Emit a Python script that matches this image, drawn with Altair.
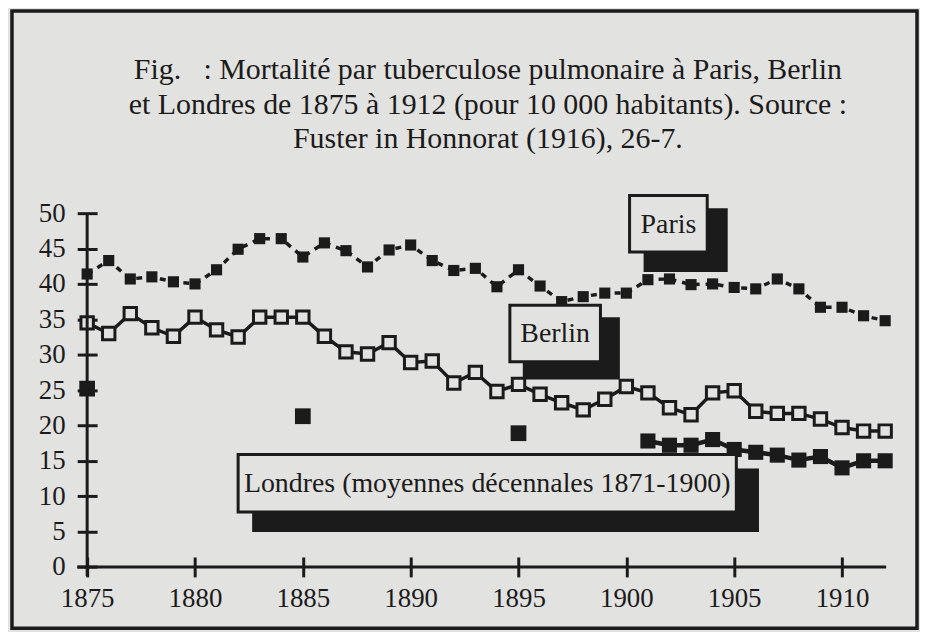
import altair as alt
import pandas as pd

# ---- data ----
years = list(range(1875, 1913))
paris = [41.4, 43.3, 40.7, 41.0, 40.3, 40.0, 42.0, 44.9, 46.4, 46.4,
         43.8, 45.8, 44.7, 42.4, 44.8, 45.5, 43.3, 41.9, 42.2, 39.6,
         42.0, 39.7, 37.5, 38.2, 38.7, 38.7, 40.6, 40.7, 39.9, 40.0,
         39.5, 39.3, 40.7, 39.3, 36.7, 36.7, 35.5, 34.8]
berlin = [34.5, 33.0, 35.8, 33.8, 32.6, 35.3, 33.5, 32.5, 35.3, 35.3,
          35.3, 32.6, 30.4, 30.1, 31.7, 28.9, 29.1, 26.0, 27.5, 24.8,
          25.8, 24.4, 23.2, 22.2, 23.7, 25.5, 24.6, 22.5, 21.5, 24.6,
          24.9, 22.0, 21.7, 21.7, 20.9, 19.7, 19.2, 19.2]
london_dec_years = [1875, 1885, 1895]
london_dec = [25.2, 21.3, 18.9]
london_years = list(range(1901, 1913))
london = [17.8, 17.2, 17.2, 18.0, 16.6, 16.2, 15.8, 15.1, 15.6, 14.0, 15.0, 15.0]

x_ticks = [1875, 1880, 1885, 1890, 1895, 1900, 1905, 1910]
y_ticks = [0, 5, 10, 15, 20, 25, 30, 35, 40, 45, 50]

title_lines = [
    "Fig.\u00a0\u00a0\u00a0: Mortalité par tuberculose pulmonaire à Paris, Berlin",
    "et Londres de 1875 à 1912 (pour 10\u00a0000 habitants). Source\u00a0:",
    "Fuster in Honnorat (1916), 26-7.",
]

# annotation boxes, in data units (year, rate)
labels = ["Paris", "Berlin", "Londres (moyennes décennales 1871-1900)"]
box_x0 = [1900.15, 1894.6, 1882.0]
box_x1 = [1903.75, 1898.8, 1905.1]
box_y0 = [44.5, 29.0, 7.75]
box_y1 = [52.5, 37.0, 15.9]
shadow_x0 = [1900.8, 1895.2, 1882.65]
shadow_x1 = [1904.7, 1899.7, 1906.15]
shadow_y0 = [41.7, 26.5, 4.95]
shadow_y1 = [50.7, 35.3, 13.9]

# ---- styling ----
INK = "#1b1b1b"
PAPER = "#e2e2e0"
FONT = "Liberation Serif"
W, H = 801.5, 355.3

df_paris = pd.DataFrame({"year": years, "value": paris})
df_berlin = pd.DataFrame({"year": years, "value": berlin})
df_ldec = pd.DataFrame({"year": london_dec_years, "value": london_dec})
df_lon = pd.DataFrame({"year": london_years, "value": london})
df_ann = pd.DataFrame({
    "label": labels,
    "bx0": box_x0, "bx1": box_x1, "by0": box_y0, "by1": box_y1,
    "sx0": shadow_x0, "sx1": shadow_x1, "sy0": shadow_y0, "sy1": shadow_y1,
})
df_ann["cx"] = (df_ann["bx0"] + df_ann["bx1"]) / 2
df_ann["cy"] = (df_ann["by0"] + df_ann["by1"]) / 2

xs = alt.Scale(domain=[1875, 1912], nice=False, zero=False)
ys = alt.Scale(domain=[0, 50], nice=False)
xaxis = alt.Axis(values=x_ticks, format="d", title=None, domain=False, grid=False,
                 tickSize=20, tickWidth=3, tickColor=INK, offset=-10,
                 labelFont=FONT, labelFontSize=27, labelColor=INK, labelPadding=9,
                 labelFlush=False, labelOverlap=False)
yaxis = alt.Axis(values=y_ticks, title=None, domain=False, grid=False,
                 tickSize=20, tickWidth=3, tickColor=INK, offset=-10,
                 labelFont=FONT, labelFontSize=27, labelColor=INK, labelPadding=12,
                 labelFlush=False, labelOverlap=False)


def X(f):
    return alt.X(f, type="quantitative", scale=xs, axis=xaxis)


def Y(f):
    return alt.Y(f, type="quantitative", scale=ys, axis=yaxis)


one = alt.Data(values=[{"a": 1}])

frame = alt.Chart(one).mark_rect(fill=None, stroke=INK, strokeWidth=3.5).encode(
    x=alt.value(-75.5), x2=alt.value(833.5), y=alt.value(-203), y2=alt.value(417))

title_layers = [
    alt.Chart(one).mark_text(font=FONT, fontSize=30, color=INK, align="center",
                             baseline="alphabetic").encode(
        text=alt.value(t), x=alt.value(402.5), y=alt.value(yy))
    for t, yy in zip(title_lines, [-135, -100, -65])
]

x_line = alt.Chart(one).mark_rule(color=INK, strokeWidth=3).encode(
    x=alt.value(-10), x2=alt.value(W + 1), y=alt.value(H))
y_line = alt.Chart(one).mark_rule(color=INK, strokeWidth=3).encode(
    x=alt.value(0), y=alt.value(0), y2=alt.value(H + 9))

paris_line = alt.Chart(df_paris).mark_line(color=INK, strokeWidth=3.5, strokeDash=[6, 6]).encode(
    x=X("year"), y=Y("value"))
paris_pts = alt.Chart(df_paris).mark_point(shape="square", filled=True, size=125,
                                           color=INK, opacity=1).encode(x=X("year"), y=Y("value"))

berlin_line = alt.Chart(df_berlin).mark_line(color=INK, strokeWidth=3.5).encode(
    x=X("year"), y=Y("value"))
berlin_pts = alt.Chart(df_berlin).mark_point(shape="square", filled=True, size=155, fill=PAPER,
                                             stroke=INK, strokeWidth=3, opacity=1).encode(
    x=X("year"), y=Y("value"))

ldec_pts = alt.Chart(df_ldec).mark_point(shape="square", filled=True, size=250,
                                         color=INK, opacity=1).encode(x=X("year"), y=Y("value"))
lon_line = alt.Chart(df_lon).mark_line(color=INK, strokeWidth=4.5).encode(
    x=X("year"), y=Y("value"))
lon_pts = alt.Chart(df_lon).mark_point(shape="square", filled=True, size=230,
                                       color=INK, opacity=1).encode(x=X("year"), y=Y("value"))

shadows = alt.Chart(df_ann).mark_rect(fill=INK).encode(
    x=X("sx0"), x2="sx1", y=Y("sy0"), y2="sy1")
boxes = alt.Chart(df_ann).mark_rect(fill=PAPER, stroke=INK, strokeWidth=3).encode(
    x=X("bx0"), x2="bx1", y=Y("by0"), y2="by1")
box_text = alt.Chart(df_ann).mark_text(font=FONT, fontSize=28, color=INK,
                                       align="center", baseline="middle", dy=1).encode(
    x=X("cx"), y=Y("cy"), text="label:N")

chart = alt.layer(
    frame, *title_layers,
    paris_line, paris_pts, berlin_line, berlin_pts,
    ldec_pts, lon_line, lon_pts,
    shadows, boxes, box_text,
    x_line, y_line,
).properties(
    width=W, height=H,
    autosize=alt.AutoSizeParams(type="none"),
    padding={"left": 79.5, "top": 204.7, "right": 35, "bottom": 64},
    background=PAPER,
).configure_view(stroke=None)

chart.save("out.html", embed_options={"renderer": "svg", "actions": False})
